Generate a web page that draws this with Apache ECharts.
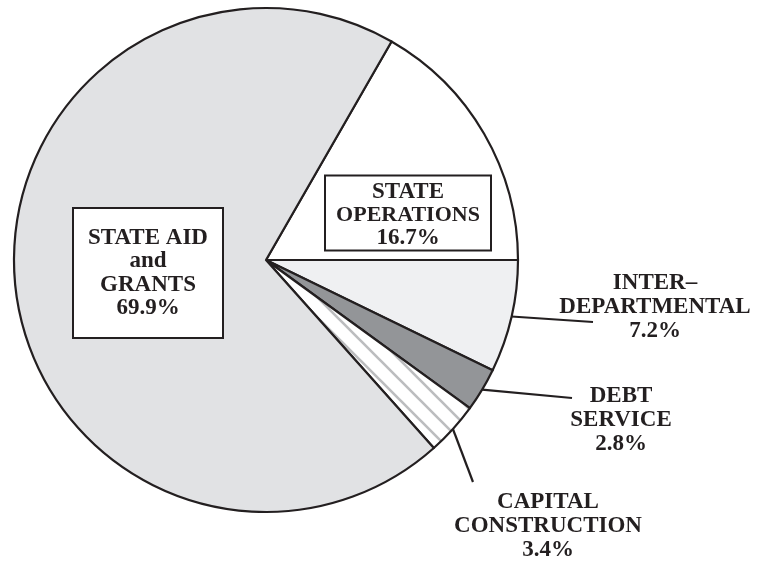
<!DOCTYPE html>
<html>
<head>
<meta charset="utf-8">
<script src="https://cdn.jsdelivr.net/npm/echarts@6/dist/echarts.min.js"></script>
<style>
html,body{margin:0;padding:0;background:#fff;}
#chart{width:767px;height:561px;}
</style>
</head>
<body>
<div id="chart"></div>
<script>
// ---- data ----
const categories = ['STATE OPERATIONS', 'INTER–DEPARTMENTAL', 'DEBT SERVICE', 'CAPITAL CONSTRUCTION', 'STATE AID and GRANTS'];
const labelNames = ['STATE\nOPERATIONS', 'INTER–\nDEPARTMENTAL', 'DEBT\nSERVICE', 'CAPITAL\nCONSTRUCTION', 'STATE AID\nand\nGRANTS'];
const values = [16.7, 7.2, 2.8, 3.4, 69.9];

// ---- layout / style (kept separate from data) ----
const labelAnchors = [
  { x: 408, y: 213 },
  { x: 655, y: 307, line: [593, 322] },
  { x: 621, y: 420, line: [572, 398] },
  { x: 548, y: 526, line: [473, 482] },
  { x: 148, y: 273 }
];
const textColor = '#231f20';
const fontFamily = '"Liberation Serif", "Times New Roman", serif';

// hatch pattern for capital construction
const pat = document.createElement('canvas');
pat.width = 20; pat.height = 20;
const pc = pat.getContext('2d');
pc.fillStyle = '#ffffff';
pc.fillRect(0, 0, 20, 20);
pc.strokeStyle = '#bcbdbf';
pc.lineWidth = 2.6;
pc.beginPath();
pc.moveTo(-3, -3); pc.lineTo(23, 23);
pc.moveTo(-3, 17); pc.lineTo(3, 23);
pc.moveTo(17, -3); pc.lineTo(23, 3);
pc.stroke();

const fills = ['#ffffff', '#eff0f2', '#939598', { image: pat, repeat: 'repeat' }, '#e1e2e4'];

const boxLabel = {
  show: true,
  position: 'inside',
  backgroundColor: '#ffffff',
  borderColor: textColor,
  borderWidth: 2,
  color: textColor,
  fontFamily: fontFamily,
  fontWeight: 'bold',
  fontSize: 23,
  lineHeight: 23.5,
  align: 'center'
};
const outLabel = {
  show: true,
  position: 'outside',
  color: textColor,
  fontFamily: fontFamily,
  fontWeight: 'bold',
  fontSize: 23,
  lineHeight: 24,
  align: 'center'
};

const data = categories.map((c, i) => {
  const item = {
    name: c,
    value: values[i],
    itemStyle: { color: fills[i] }
  };
  if (i === 0) {
    item.label = Object.assign({}, boxLabel, {
      width: 164,
      padding: [4, 0, 0, 0],
      lineHeight: 23,
      formatter: '{a|STATE}\n{b|OPERATIONS}\n{a|' + values[i] + '%}',
      rich: {
        a: { fontFamily: fontFamily, fontWeight: 'bold', fontSize: 23, lineHeight: 23, color: textColor, align: 'center' },
        b: { fontFamily: fontFamily, fontWeight: 'bold', fontSize: 22, lineHeight: 23, color: textColor, align: 'center' }
      }
    });
    item.labelLine = { show: false };
  } else if (i === 4) {
    item.label = Object.assign({}, boxLabel, {
      width: 148,
      padding: [22, 0, 12, 0],
      formatter: labelNames[i] + '\n' + values[i] + '%'
    });
    item.labelLine = { show: false };
  } else {
    item.label = Object.assign({}, outLabel, {
      formatter: labelNames[i] + '\n' + values[i] + '%'
    });
    item.labelLine = { show: true, lineStyle: { color: textColor, width: 2.2 } };
  }
  return item;
});

const chart = echarts.init(document.getElementById('chart'), null, { renderer: 'canvas' });
chart.setOption({
  animation: false,
  backgroundColor: '#ffffff',
  series: [{
    type: 'pie',
    center: [266, 260],
    radius: 252,
    startAngle: values[0] / 100 * 360,
    clockwise: true,
    avoidLabelOverlap: false,
    silent: true,
    itemStyle: { borderColor: textColor, borderWidth: 2.2 },
    emphasis: { disabled: true },
    labelLayout: function (params) {
      const a = labelAnchors[params.dataIndex];
      const res = { x: a.x, y: a.y, align: 'center', verticalAlign: 'middle' };
      if (a.line && params.labelLinePoints) {
        const p0 = params.labelLinePoints[0];
        res.labelLinePoints = [p0, a.line, a.line];
      }
      return res;
    },
    data: data
  }]
});
</script>
</body>
</html>
